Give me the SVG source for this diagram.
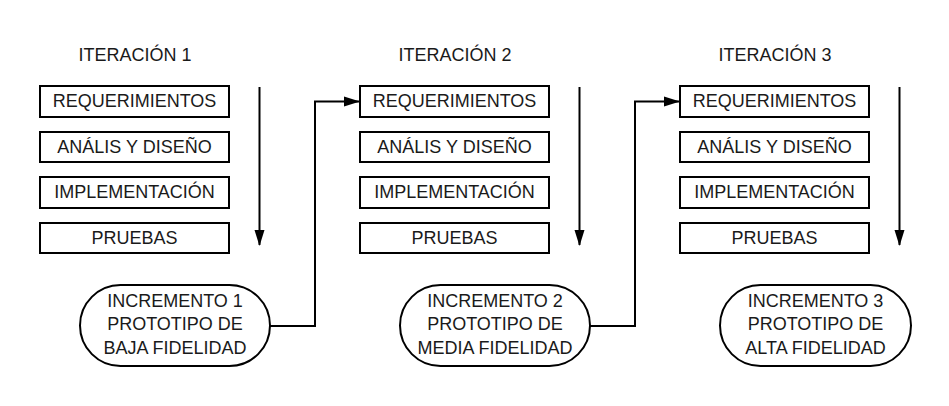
<svg xmlns="http://www.w3.org/2000/svg" width="949" height="406" viewBox="0 0 949 406">
<style>
text{font-family:"Liberation Sans",Arial,sans-serif;font-size:18px;fill:#1a1a1a;text-anchor:middle}
.b{fill:#fff;stroke:#000;stroke-width:2}
.c{fill:none;stroke:#000;stroke-width:2}
</style>
<defs>
<marker id="ah" markerWidth="16" markerHeight="12" refX="15" refY="6" orient="auto" markerUnits="userSpaceOnUse" viewBox="0 0 16 12">
<path d="M0,1 L16,6 L0,11 Z" fill="#000"/>
</marker>
</defs>
<rect width="949" height="406" fill="#fff"/>
<g id="col1">
<text x="135" y="61">ITERACIÓN 1</text>
<g id="req1"><rect class="b" x="40" y="86" width="189" height="31"/><text x="134.5" y="107">REQUERIMIENTOS</text></g>
<g id="ana1"><rect class="b" x="40" y="132" width="189" height="30"/><text x="134.5" y="152.5">ANÁLIS Y DISEÑO</text></g>
<g id="imp1"><rect class="b" x="40" y="177" width="189" height="31"/><text x="134.5" y="198">IMPLEMENTACIÓN</text></g>
<g id="pru1"><rect class="b" x="40" y="223" width="189" height="30"/><text x="134.5" y="243.5">PRUEBAS</text></g>
<g id="inc1"><rect class="b" x="80" y="285" width="190" height="81" rx="40.5"/><text x="175" y="306.5">INCREMENTO 1</text><text x="175" y="330">PROTOTIPO DE</text><text x="175" y="353.5">BAJA FIDELIDAD</text></g>
</g>
<g id="col2">
<text x="455" y="61">ITERACIÓN 2</text>
<g id="req2"><rect class="b" x="360" y="86" width="189" height="31"/><text x="454.5" y="107">REQUERIMIENTOS</text></g>
<g id="ana2"><rect class="b" x="360" y="132" width="189" height="30"/><text x="454.5" y="152.5">ANÁLIS Y DISEÑO</text></g>
<g id="imp2"><rect class="b" x="360" y="177" width="189" height="31"/><text x="454.5" y="198">IMPLEMENTACIÓN</text></g>
<g id="pru2"><rect class="b" x="360" y="223" width="189" height="30"/><text x="454.5" y="243.5">PRUEBAS</text></g>
<g id="inc2"><rect class="b" x="400" y="285" width="190" height="81" rx="40.5"/><text x="495" y="306.5">INCREMENTO 2</text><text x="495" y="330">PROTOTIPO DE</text><text x="495" y="353.5">MEDIA FIDELIDAD</text></g>
</g>
<g id="col3">
<text x="775" y="61">ITERACIÓN 3</text>
<g id="req3"><rect class="b" x="680" y="86" width="189" height="31"/><text x="774.5" y="107">REQUERIMIENTOS</text></g>
<g id="ana3"><rect class="b" x="680" y="132" width="189" height="30"/><text x="774.5" y="152.5">ANÁLIS Y DISEÑO</text></g>
<g id="imp3"><rect class="b" x="680" y="177" width="189" height="31"/><text x="774.5" y="198">IMPLEMENTACIÓN</text></g>
<g id="pru3"><rect class="b" x="680" y="223" width="189" height="30"/><text x="774.5" y="243.5">PRUEBAS</text></g>
<g id="inc3"><rect class="b" x="720" y="285" width="191" height="81" rx="40.5"/><text x="815.5" y="306.5">INCREMENTO 3</text><text x="815.5" y="330">PROTOTIPO DE</text><text x="815.5" y="353.5">ALTA FIDELIDAD</text></g>
</g>
<g id="connectors">
<path class="c" d="M259.5,87 V245" marker-end="url(#ah)"/>
<path class="c" d="M579.5,87 V245" marker-end="url(#ah)"/>
<path class="c" d="M899.5,87 V245" marker-end="url(#ah)"/>
<path class="c" d="M270,326 H315 V101.5 H359" marker-end="url(#ah)"/>
<path class="c" d="M590,326 H635 V101.5 H679" marker-end="url(#ah)"/>
</g>
</svg>
